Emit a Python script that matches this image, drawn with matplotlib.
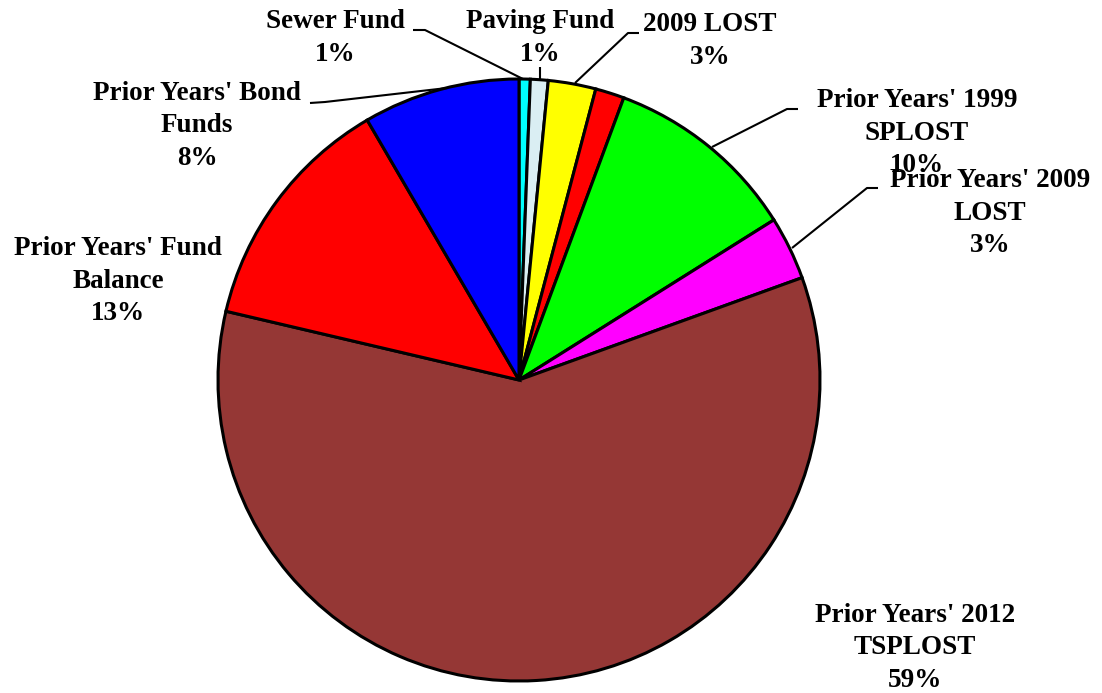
import matplotlib
matplotlib.use("Agg")
import matplotlib.pyplot as plt

# Funding sources (share of total, percent), clockwise from 12 o'clock
categories = [
    "Sewer Fund",
    "Paving Fund",
    "2009 LOST",
    "",
    "Prior Years' 1999\nSPLOST",
    "Prior Years' 2009\nLOST",
    "Prior Years' 2012\nTSPLOST",
    "Prior Years' Fund\nBalance",
    "Prior Years' Bond\nFunds",
]
values = [0.6, 0.95, 2.55, 1.55, 10.4, 3.4, 59.1, 12.9, 8.4]
colors = ["#00FFFF", "#DAEEF3", "#FFFF00", "#FF0000", "#00FF00",
          "#FF00FF", "#953735", "#FF0000", "#0000FF"]

W, H = 1102, 693
fig = plt.figure(figsize=(W / 100, H / 100), dpi=100)
ax = fig.add_axes([0, 0, 1, 1])

cx, cy, r = 519, H - 380, 301
ax.pie(values, colors=colors, startangle=90, counterclock=False,
       center=(cx, cy), radius=r, frame=True,
       wedgeprops=dict(edgecolor="black", linewidth=2.2))
ax.set_xlim(0, W)
ax.set_ylim(0, H)
ax.set_aspect("equal")
ax.axis("off")

total = sum(values)
font = dict(family="Liberation Serif", fontweight="bold", fontsize=19.5,
            ha="center", va="center", linespacing=1.38, color="black")

# label centre (x, y from top) and leader path (points from top)
label_pos = {
    0: ((335, 38), [(413, 30), (425, 30), (523, 79)]),
    1: ((540, 38), [(540, 67), (540, 79)]),
    2: ((710, 41), [(639, 33), (628, 33), (575, 83)]),
    4: ((917, 133), [(798, 109), (787, 109), (712, 147)]),
    5: ((990, 213), [(878, 188), (867, 188), (792, 248)]),
    6: ((915, 648), None),
    7: ((118, 281), None),
    8: ((197, 126), [(310, 103), (325, 102), (447, 88)]),
}

for i, ((tx, ty), path) in label_pos.items():
    pct = round(values[i] / total * 100)
    ax.text(tx, H - ty, f"{categories[i]}\n{pct}%", **font)
    if path:
        xs = [p[0] for p in path]
        ys = [H - p[1] for p in path]
        ax.plot(xs, ys, color="black", linewidth=1.5, solid_capstyle="butt")

fig.savefig("out.png", dpi=100)
